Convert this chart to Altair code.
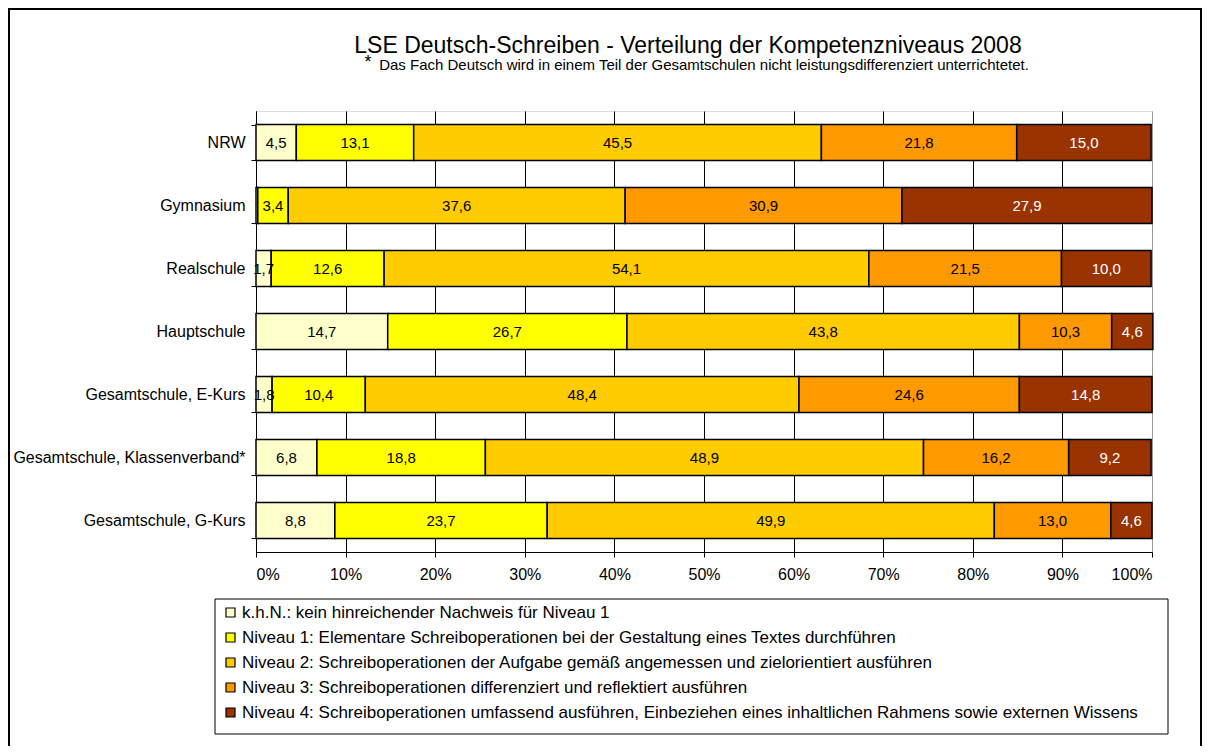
import altair as alt
import pandas as pd

categories = ["NRW", "Gymnasium", "Realschule", "Hauptschule",
              "Gesamtschule, E-Kurs", "Gesamtschule, Klassenverband*", "Gesamtschule, G-Kurs"]
levels = [
    "k.h.N.: kein hinreichender Nachweis für Niveau 1",
    "Niveau 1: Elementare Schreiboperationen bei der Gestaltung eines Textes durchführen",
    "Niveau 2: Schreiboperationen der Aufgabe gemäß angemessen und zielorientiert ausführen",
    "Niveau 3: Schreiboperationen differenziert und reflektiert ausführen",
    "Niveau 4: Schreiboperationen umfassend ausführen, Einbeziehen eines inhaltlichen Rahmens sowie externen Wissens",
]
colors = ["#FFFFCC", "#FFFF00", "#FFCC00", "#FF9900", "#993300"]
text_colors = ["black", "black", "black", "black", "white"]

khn = [4.5, 0.2, 1.7, 14.7, 1.8, 6.8, 8.8]
niveau1 = [13.1, 3.4, 12.6, 26.7, 10.4, 18.8, 23.7]
niveau2 = [45.5, 37.6, 54.1, 43.8, 48.4, 48.9, 49.9]
niveau3 = [21.8, 30.9, 21.5, 10.3, 24.6, 16.2, 13.0]
niveau4 = [15.0, 27.9, 10.0, 4.6, 14.8, 9.2, 4.6]

title_text = "LSE Deutsch-Schreiben - Verteilung der Kompetenzniveaus  2008"
subtitle_text = "Das Fach Deutsch wird in einem Teil der Gesamtschulen nicht leistungsdifferenziert unterrichtetet."

series = [khn, niveau1, niveau2, niveau3, niveau4]

rows = []
for ci, cat in enumerate(categories):
    start = 0.0
    for li, vals in enumerate(series):
        v = vals[ci]
        rows.append({
            "cat": cat,
            "level": levels[li],
            "order": li,
            "value": v,
            "start": start / 100.0,
            "end": (start + v) / 100.0,
            "mid": (start + v / 2) / 100.0,
            "label": f"{v:.1f}".replace(".", ",") if v >= 1 else "",
            "tcolor": text_colors[li],
        })
        start += v
df = pd.DataFrame(rows)

FONT = "Arial, Liberation Sans, sans-serif"
W, H = 896, 441
FS = 16

ycat = alt.Y("cat:N", sort=categories, title=None,
             scale=alt.Scale(paddingInner=0.4286, paddingOuter=0.2143),
             axis=alt.Axis(tickBand="extent", tickSize=5, tickColor="black",
                           domainColor="black", labelFontSize=FS, labelFont=FONT,
                           labelColor="black", labelPadding=6, labelLimit=300))

bars = alt.Chart(df).mark_bar(stroke="black", strokeWidth=1.5).encode(
    x=alt.X("start:Q", scale=alt.Scale(domain=[0, 1], nice=False),
            axis=alt.Axis(format=".0%", values=[i / 10 for i in range(11)],
                          tickSize=5, tickColor="black", domainColor="black",
                          labelFontSize=FS, labelFont=FONT, labelColor="black",
                          labelPadding=9, grid=True,
                          gridColor={"condition": {"test": "datum.value >= 1", "value": "#999999"},
                                     "value": "black"},
                          gridWidth=1),
            title=None),
    x2="end:Q",
    y=ycat,
    color=alt.Color("level:N", sort=levels,
                    scale=alt.Scale(domain=levels, range=colors),
                    legend=alt.Legend(title=None, orient="none", legendX=-34, legendY=493,
                                      direction="vertical", symbolType="square",
                                      symbolSize=81, symbolStrokeColor="black",
                                      symbolStrokeWidth=1.2, labelFontSize=17,
                                      labelFont=FONT, labelColor="black", labelLimit=0,
                                      labelOffset=3, rowPadding=7)),
    order=alt.Order("order:Q"),
)

labels = alt.Chart(df).mark_text(fontSize=15, font=FONT).encode(
    x=alt.X("mid:Q"),
    y=alt.Y("cat:N", sort=categories),
    text="label:N",
    color=alt.Color("tcolor:N", scale=None),
)

one = pd.DataFrame({"title": [title_text], "sub": [subtitle_text], "star": ["*"]})

title_mark = alt.Chart(one).mark_text(fontSize=23, font=FONT, color="black",
                                      align="center", baseline="alphabetic").encode(
    x=alt.value(432), y=alt.value(-58), text="title:N")
sub_mark = alt.Chart(one).mark_text(fontSize=15, font=FONT, color="black",
                                    align="center", baseline="alphabetic").encode(
    x=alt.value(448), y=alt.value(-41), text="sub:N")
star_mark = alt.Chart(one).mark_text(fontSize=18, font=FONT, color="black",
                                     align="center", baseline="alphabetic").encode(
    x=alt.value(112), y=alt.value(-43), text="star:N")

legend_box = alt.Chart(one).mark_rect(fill="transparent", stroke="black", strokeWidth=1).encode(
    x=alt.value(-41), x2=alt.value(912), y=alt.value(488), y2=alt.value(623))
frame = alt.Chart(one).mark_rect(fill="transparent", stroke="black", strokeWidth=2).encode(
    x=alt.value(-247), x2=alt.value(945), y=alt.value(-102), y2=alt.value(636))

chart = alt.layer(bars, labels, title_mark, sub_mark, star_mark, legend_box, frame).properties(
    width=W, height=H,
    padding={"left": 248, "top": 103, "right": 50, "bottom": 194},
    autosize=alt.AutoSizeParams(type="none"),
).configure_view(stroke="#999999", strokeWidth=1).configure(background="white")

chart.save("out.html", embed_options={"renderer": "svg", "actions": False})
